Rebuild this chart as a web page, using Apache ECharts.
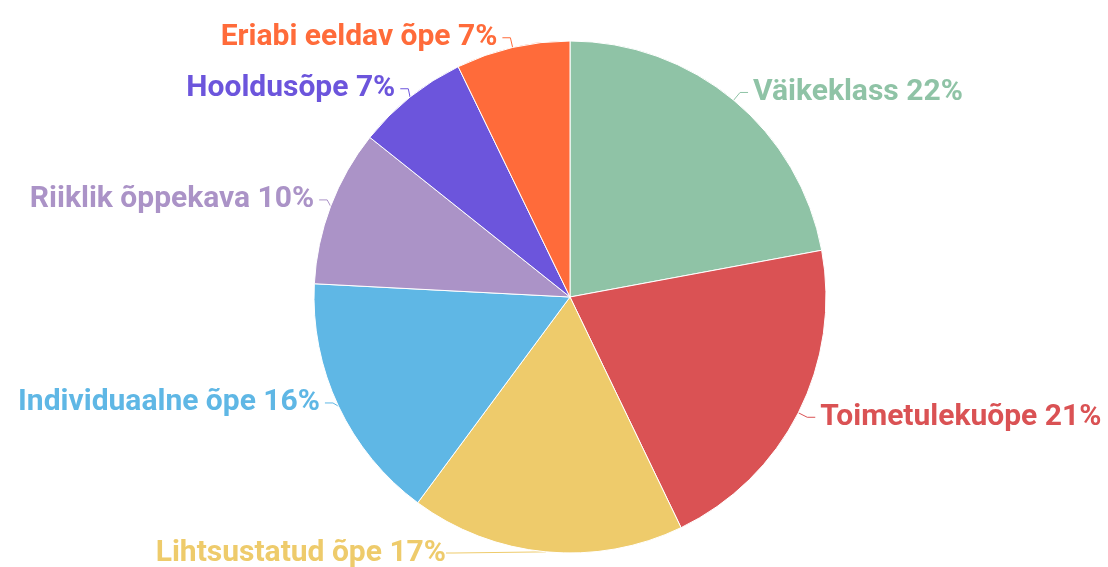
<!DOCTYPE html>
<html>
<head>
<meta charset="utf-8">
<script src="https://cdn.jsdelivr.net/npm/echarts@6/dist/echarts.min.js"></script>
<style>
  html, body { margin: 0; padding: 0; background: #fff; }
  #chart { width: 1108px; height: 567px; }
</style>
</head>
<body>
<div id="chart"></div>
<script>
var categories = ["Väikeklass", "Toimetulekuõpe", "Lihtsustatud õpe", "Individuaalne õpe", "Riiklik õppekava", "Hooldusõpe", "Eriabi eeldav õpe"];
var values = [22.1, 20.8, 17.3, 15.7, 9.9, 7.1, 7.2];
var colors = ["#8fc3a6", "#da5254", "#eecb6b", "#5fb7e5", "#ab93c7", "#6c55dc", "#ff6b3a"];

var chart = echarts.init(document.getElementById("chart"));
var option = {
  color: colors,
  animation: false,
  series: [
    {
      type: "pie",
      center: [570, 297],
      radius: 256,
      startAngle: 90,
      clockwise: true,
      itemStyle: {
        borderColor: "#fff",
        borderWidth: 1
      },
      label: {
        show: true,
        overflow: "none",
        fontFamily: "Roboto",
        fontSize: 30,
        fontWeight: "bold",
        color: "inherit",
        formatter: function (p) {
          return p.name + " " + Math.round(p.percent) + "%";
        }
      },
      labelLine: {
        show: true,
        length: 10,
        length2: 8,
        lineStyle: { width: 1 }
      },
      labelLayout: function (params) {
        // bottom label sits left of the slice, under the pie
        if (params.dataIndex === 2) {
          return { x: 446, y: 553, align: "right", verticalAlign: "middle" };
        }
        return {};
      },
      data: categories.map(function (c, i) {
        return { name: c, value: values[i] };
      })
    }
  ]
};
chart.setOption(option);
</script>
</body>
</html>
